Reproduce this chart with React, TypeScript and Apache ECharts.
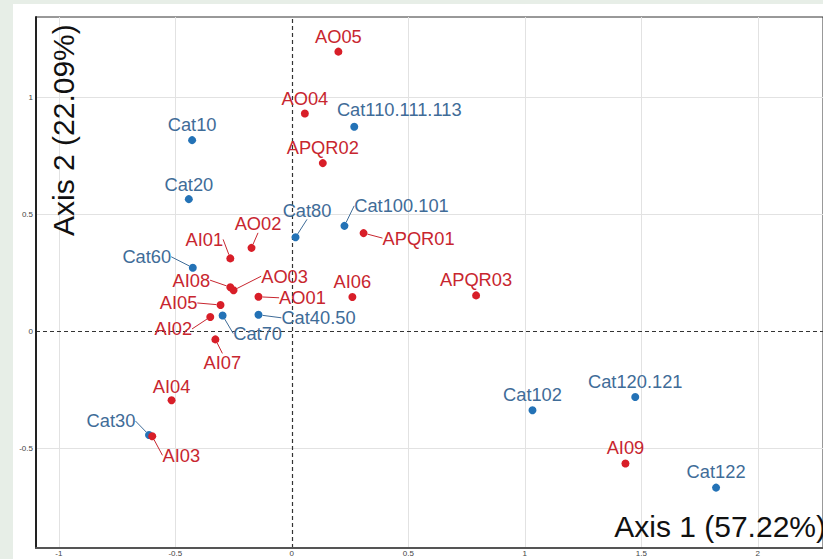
import React, { useEffect, useRef } from 'react';
import * as echarts from 'echarts';

// ---- data ----
const redNames = ['AO05', 'AO04', 'APQR02', 'AO02', 'AI01', 'APQR01', 'AI08', 'AO03', 'AO01', 'AI06', 'APQR03', 'AI05', 'AI02', 'AI07', 'AI04', 'AI03', 'AI09'];
const redX = [0.200, 0.056, 0.133, -0.173, -0.264, 0.308, -0.264, -0.250, -0.143, 0.260, 0.791, -0.306, -0.350, -0.328, -0.516, -0.599, 1.432];
const redY = [1.194, 0.930, 0.718, 0.356, 0.311, 0.419, 0.188, 0.175, 0.147, 0.146, 0.153, 0.112, 0.061, -0.035, -0.295, -0.449, -0.565];

const blueNames = ['Cat10', 'Cat110.111.113', 'Cat20', 'Cat80', 'Cat100.101', 'Cat60', 'Cat70', 'Cat40.50', 'Cat30', 'Cat102', 'Cat120.121', 'Cat122'];
const blueX = [-0.428, 0.268, -0.442, 0.016, 0.226, -0.425, -0.297, -0.143, -0.613, 1.033, 1.474, 1.821];
const blueY = [0.816, 0.873, 0.564, 0.401, 0.450, 0.271, 0.067, 0.070, -0.443, -0.338, -0.281, -0.668];

const xTickValues = [-1, -0.5, 0, 0.5, 1, 1.5, 2];
const yTickValues = [-0.5, 0, 0.5, 1];
const xTitle = 'Axis 1 (57.22%)';
const yTitle = 'Axis 2 (22.09%)';

// ---- label layout (pixel offsets of label centre from point, and whether a segment is drawn) ----
const redLabelLayout: [number, number, boolean][] = [
  [0, -15, false], [0, -14.5, false], [0, -15.5, false], [6.5, -24, true], [-26, -19, true],
  [55, 5, true], [-39, -7, true], [51, -14, true], [44, 1, true], [0, -16, false],
  [0, -16, false], [-42, -2, true], [-37, 12, true], [7, 23, true], [0, -14, false],
  [29, 19, true], [0, -16, false],
];
const blueLabelLayout: [number, number, boolean][] = [
  [0, -16, false], [45, -17, false], [0, -15, false], [11.5, -27, true], [57, -20, true],
  [-46, -11, true], [35, 18, true], [60, 3, true], [-38, -14, true], [0, -16, false],
  [0, -15, false], [0, -16, false],
];

const RED = '#d81e28';
const RED_TEXT = '#c8262f';
const BLUE = '#2372b6';
const BLUE_TEXT = '#3f6c98';
const FONT = "'Liberation Sans', Arial, sans-serif";

function buildData(xs: number[], ys: number[], names: string[], layout: [number, number, boolean][]) {
  return xs.map((x, i) => ({
    name: names[i],
    value: [x, ys[i]],
    labelLine: { show: layout[i][2] },
  }));
}

const tickLabel = (v: number) => String(v);

export default function App() {
  const ref = useRef<HTMLDivElement>(null);

  useEffect(() => {
    if (!ref.current) return;
    const chart = echarts.init(ref.current, null, { renderer: 'svg' });
    const layouts = [redLabelLayout, blueLabelLayout];

    const gridStyle = { color: '#e2e2e2', width: 1, type: 'solid' };
    const zeroStyle = { color: '#333', width: 1.2, type: [4, 3] };
    const labelBase = { show: true, fontSize: 8, color: '#444', fontFamily: FONT };

    const gridLines: any[] = [];
    xTickValues.forEach((v) => {
      gridLines.push({
        xAxis: v,
        lineStyle: v === 0 ? zeroStyle : gridStyle,
        label: { ...labelBase, position: 'start', distance: 1, formatter: tickLabel(v) },
      });
    });
    yTickValues.forEach((v) => {
      gridLines.push({
        yAxis: v,
        lineStyle: v === 0 ? zeroStyle : gridStyle,
        label: { ...labelBase, position: 'start', distance: 3, formatter: tickLabel(v) },
      });
    });
    gridLines.sort((a, b) => (a.lineStyle === zeroStyle ? 1 : 0) - (b.lineStyle === zeroStyle ? 1 : 0));

    const option: any = {
      animation: false,
      backgroundColor: '#e7eee7',
      graphic: [
        { type: 'rect', z: -10, silent: true, shape: { x: 13, y: 4, width: 830, height: 570 }, style: { fill: '#ffffff' } },
        {
          type: 'text', z: 100, x: 826, y: 526,
          style: { text: xTitle, font: `30px ${FONT}`, fill: '#111', textAlign: 'right', textVerticalAlign: 'middle' },
        },
        {
          type: 'text', z: 100, x: 63, y: 236, rotation: Math.PI / 2,
          style: { text: yTitle, font: `30px ${FONT}`, fill: '#111', textAlign: 'left', textVerticalAlign: 'middle' },
        },
      ],
      grid: { left: 36, top: 17, right: -2, bottom: 11, show: true, borderColor: '#333', borderWidth: 1, backgroundColor: 'transparent' },
      xAxis: {
        type: 'value', min: -1.098, max: 2.28,
        axisLine: { show: true, onZero: false, lineStyle: { color: '#555', width: 2 } },
        axisTick: { show: false },
        axisLabel: { show: false },
        splitLine: { show: false },
      },
      yAxis: {
        type: 'value', min: -0.926, max: 1.342,
        axisLine: { show: true, onZero: false, lineStyle: { color: '#222', width: 2 } },
        axisTick: { show: false },
        axisLabel: { show: false },
        splitLine: { show: false },
      },
      series: [
        {
          type: 'scatter', z: 1, data: [],
          markLine: {
            z: 0, silent: true, symbol: 'none', precision: 2,
            data: gridLines,
          },
        },
        {
          type: 'scatter', z: 2, data: buildData(blueX, blueY, blueNames, blueLabelLayout),
          symbolSize: 8, itemStyle: { color: BLUE, opacity: 1 },
          label: { show: true, position: 'inside', formatter: '{b}', color: BLUE_TEXT, fontSize: 18.3, fontFamily: FONT },
          labelLine: { show: true, lineStyle: { color: BLUE_TEXT, width: 1 } },
          labelLayout: (p: any) => ({ dx: layouts[1][p.dataIndex][0], dy: layouts[1][p.dataIndex][1] }),
        },
        {
          type: 'scatter', z: 3, data: buildData(redX, redY, redNames, redLabelLayout),
          symbolSize: 8, itemStyle: { color: RED, opacity: 1 },
          label: { show: true, position: 'inside', formatter: '{b}', color: RED_TEXT, fontSize: 18.3, fontFamily: FONT },
          labelLine: { show: true, lineStyle: { color: RED_TEXT, width: 1 } },
          labelLayout: (p: any) => ({ dx: layouts[0][p.dataIndex][0], dy: layouts[0][p.dataIndex][1] }),
        },
      ],
    };
    chart.setOption(option);
    return () => chart.dispose();
  }, []);

  return (
    <div style={{ position: 'fixed', left: 0, top: 0, width: 823, height: 559 }}>
      <div ref={ref} style={{ width: 823, height: 559 }} />
    </div>
  );
}
